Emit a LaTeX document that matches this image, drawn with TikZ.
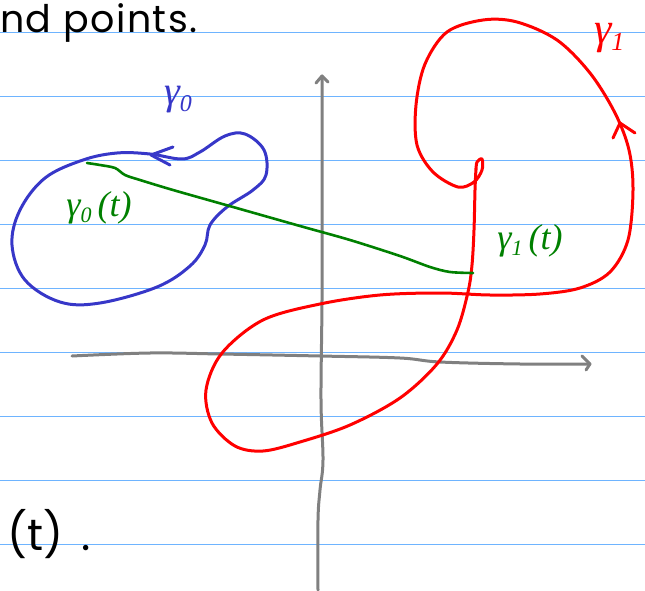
\documentclass[tikz,border=0pt]{standalone}
\usepackage{fontspec}
\setmainfont{Poppins}
\newfontfamily\lbl{Liberation Serif}
\usetikzlibrary{arrows.meta}
\definecolor{rulec}{RGB}{110,180,255}
\definecolor{axisc}{RGB}{128,128,128}
\definecolor{bluec}{RGB}{55,55,200}
\definecolor{greenc}{RGB}{0,128,0}
\definecolor{redc}{RGB}{255,0,0}
\newcommand{\lowsub}[2]{\raisebox{-0.35ex}{\fontsize{#1}{#1}\selectfont #2}}
\tikzset{
  ruleline/.style={rulec, line width=1.5pt},
  axisline/.style={axisc, line width=3pt, line cap=round, line join=round},
  bluecurve/.style={bluec, line width=3pt, line cap=round, line join=round},
  redcurve/.style={redc, line width=3pt, line cap=round, line join=round},
  greencurve/.style={greenc, line width=2.6pt, line cap=round, line join=round},
  hand/.style={inner sep=0pt, outer sep=0pt},
}
\begin{document}
\begin{tikzpicture}[x=1pt,y=-1pt]
\useasboundingbox (0,0) rectangle (645,591);
% ruled lines
\foreach \k in {0,...,8}{
  \draw[ruleline] (0,{32.5+64*\k}) -- (645,{32.5+64*\k});
}
% texts
\node[hand, anchor=base west, font=\fontsize{38}{42}\selectfont\addfontfeature{LetterSpace=4}] (toptext) at (0,33) {nd points.};
\node[hand, anchor=base west, font=\fontsize{44}{48}\selectfont] (bottext) at (8,550) {(t)\hspace{18pt}.};
% axes
\draw[axisline] plot[smooth, tension=0.6] coordinates {(72,356) (150,353) (220,354) (320,356) (400,358) (440,362) (520,364) (590,364)};
\draw[axisline] (582,356) -- (590,364) -- (586,370);
\draw[axisline] plot[smooth, tension=0.6] coordinates {(318,590) (318,520) (320,490) (323,460) (321,400) (322,300) (322,200) (322,76)};
\draw[axisline] (316,83) -- (322,76) -- (328,82);
% blue curve gamma_0
\draw[bluecurve] plot[smooth cycle, tension=0.6] coordinates {
 (182,159) (150,154) (117,153) (83,160) (45,178) (20,210) (12,245) (25,280) (60,302) (100,303)
 (157,287) (190,266) (205,245) (210,225) (227,207) (253,190) (266,175) (264,150) (245,134) (225,136) (200,152)};
\draw[bluecurve] (173,147) -- (151,155) -- (170,165);
% red curve gamma_1
\draw[redcurve] plot[smooth, tension=0.55] coordinates {
 (476,168) (475,190) (474,230) (472,265) (468,292) (457,330) (437,364) (400,398) (350,425) (300,442) (263,451) (235,446) (212,423) (206,390)
 (222,353) (263,320) (320,304) (380,295) (440,293) (490,295) (540,294) (580,288) (610,272) (628,240) (633,190) (629,150)
 (615,113) (590,73) (557,40) (517,22) (483,20) (447,32) (425,64) (416,105) (417,145) (433,172) (458,187) (474,182) (482,170) (482,159) (477,162) (476,170)};
\draw[redcurve] (613,138) -- (620,123) -- (635,133);
% green connector
\draw[greencurve] plot[smooth, tension=0.5] coordinates {
 (87,163) (100,165) (115,168) (125,175) (140,180) (173,190) (233,207) (300,226) (350,240) (400,256) (430,267) (450,272) (473,273)};
% labels
\node[hand, bluec, font={\lbl\itshape\fontsize{40}{44}\selectfont}] (g0) at (178,100) {γ\lowsub{24}{0}};
\node[hand, greenc, font={\lbl\itshape\fontsize{36}{40}\selectfont}] (g0t) at (99,208) {γ\lowsub{22}{0}\,(t)};
\node[hand, greenc, font={\lbl\itshape\fontsize{36}{40}\selectfont}] (g1t) at (530,241) {γ\lowsub{22}{1}\,(t)};
\node[hand, redc, font={\lbl\itshape\fontsize{44}{48}\selectfont}, anchor=west] (g1) at (594,38) {γ\lowsub{26}{1}};
\end{tikzpicture}
\end{document}
